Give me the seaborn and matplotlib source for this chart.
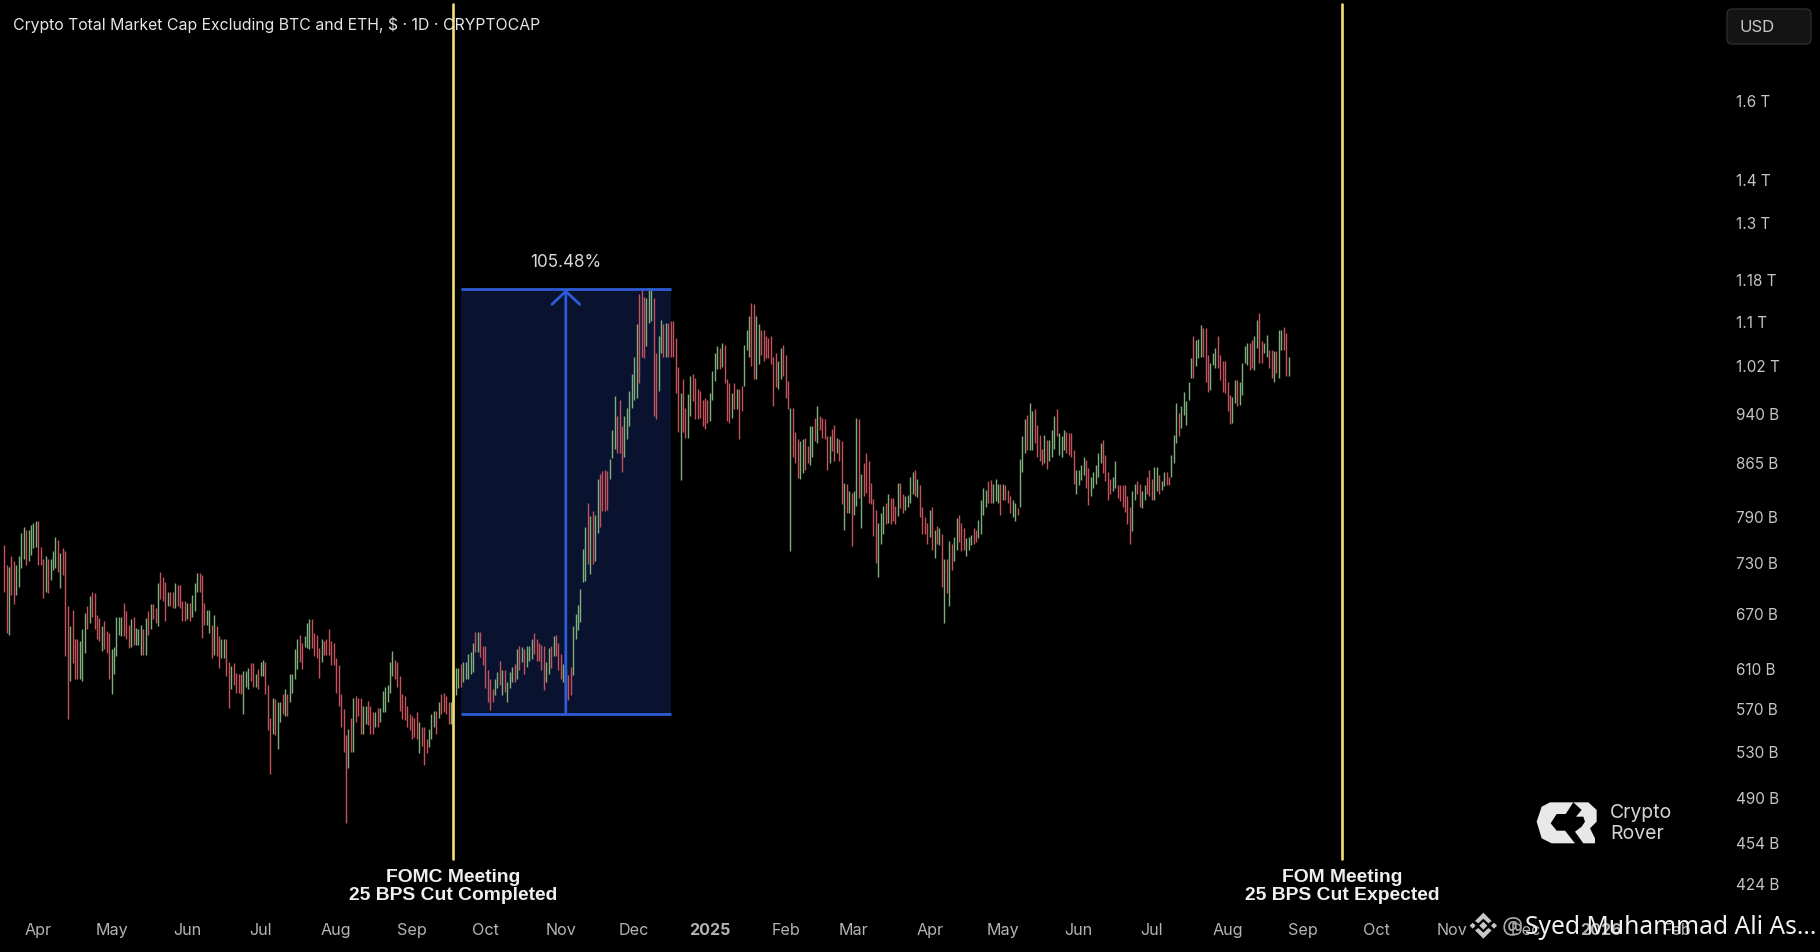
import matplotlib
matplotlib.use("Agg")
import matplotlib.pyplot as plt
import matplotlib.transforms as mtrans
from matplotlib.patches import FancyBboxPatch, Polygon
import pandas as pd
import seaborn as sns

# daily range of the index in billions, Mar 2024 -> Sep 2024
highs_a = [753,728,726,739,733,728,739,769,777,773,
           773,779,782,784,784,751,735,739,735,735,
           745,764,760,743,749,745,679,656,675,642,
           642,640,653,671,679,691,696,694,669,665,
           656,662,651,649,631,634,667,667,667,683,
           673,658,664,667,654,653,658,653,665,673,
           681,681,677,706,720,714,708,696,696,696,
           706,704,704,685,685,683,683,692,706,718,
           718,716,683,675,675,658,669,656,645,642,
           642,642,618,613,617,606,605,605,608,608,
           611,617,617,605,610,618,620,618,594,562,
           581,580,577,577,585,590,585,605,605,631,
           642,647,638,645,660,664,664,649,647,632,
           642,640,642,653,640,638,622,615,585,570,
           546,551,562,581,583,581,581,573,573,578,
           573,567,567,571,571,588,592,594,618,629,
           620,618,603,585,583,573,565,564,562,567,
           558,553,553,542,551,565,568,568,577,585,
           586,583,577,577]
lows_a = [696,649,647,692,681,692,702,724,735,728,
          733,741,749,751,728,728,689,696,694,710,
          722,724,720,700,716,624,561,598,617,600,
          600,600,598,627,653,660,667,653,642,640,
          629,631,627,600,585,605,624,647,645,645,
          642,632,634,636,636,636,625,625,625,647,
          653,664,660,656,687,685,662,679,679,677,
          677,679,677,662,662,664,662,667,673,696,
          696,643,658,658,649,622,625,624,611,622,
          622,603,571,590,594,586,586,585,565,592,
          590,598,592,592,590,603,603,585,550,511,
          547,546,533,558,565,564,564,577,586,600,
          610,618,610,634,632,631,632,624,622,601,
          618,625,625,625,615,615,586,573,553,530,
          470,516,530,530,558,564,547,547,556,555,
          547,547,553,553,558,567,567,577,586,603,
          600,592,568,561,560,553,550,542,544,542,
          529,536,519,529,535,542,553,547,562,565,
          567,565,556,556]
dirs_a = ("RRGRRGGGGR" "GGGGRRRGRG" "GGRGRRRGRR" "RGGGRGRRRR" "GRRRGGGGGR"
          "RRGRGGGRGR" "GRRGRRRGRR" "GRRRRGRGGG" "RRRGGRGRRG" "GRRGRRRRGG"
          "GRRGRGGRRR" "GRGGRGRGGG" "GRRGGGRRRR" "GRRRRRRRRR" "RGRGRRRGGR"
          "RRGRGGGGGG" "RRRRRRRRRR" "GRRRGGGRGR" "RRRG")

# Sep 2024 -> Apr/May 2025
highs_b = [603,611,611,616,618,618,626,628,638,650,
           650,650,635,635,609,600,590,600,607,619,
           609,609,597,607,612,616,631,635,634,631,
           635,635,642,649,642,638,636,635,618,633,
           635,646,647,638,626,616,611,604,612,657,
           670,680,699,748,776,809,791,798,793,842,
           849,854,856,854,871,915,970,937,964,922,
           937,951,978,1006,1037,1095,1154,1161,1148,1145,
           1165,1165,1145,1043,1074,1104,1095,1098,1098,1101,
           1101,1071,1018,975,998,951,973,1004,1006,1000,
           981,978,964,967,964,975,1012,1043,1055,1052,
           1061,1058,998,992,975,992,981,981,986,1058,
           1085,1110,1136,1133,1110,1095,1085,1085,1074,1071,
           1074,1037,1043,1030,1052,1058,1040,995,951,951,
           912,901,899,901,903,891,922,922,934,953,
           937,934,932,906,906,917,924,903,901,899,
           837,835,826,823,826,934,932,849,866,881,
           868,837,814,800,782,795,805,809,821,816,
           816,805,837,837]
lows_b = [575,584,591,592,597,600,600,605,607,628,
          628,623,614,591,577,569,577,584,591,594,
          584,587,577,591,597,597,600,609,618,605,
          612,619,621,626,619,619,609,589,597,605,
          611,624,624,609,600,597,580,579,584,604,
          642,652,661,707,709,729,717,729,733,769,
          776,798,798,800,842,873,886,880,880,852,
          874,901,922,951,964,967,992,1037,1034,1055,
          1098,1101,937,932,978,1043,1037,1037,1037,1037,
          1037,975,912,841,912,903,903,937,962,932,
          932,934,922,917,926,929,964,995,1015,1015,
          1018,992,929,926,934,948,948,901,945,986,
          1049,1037,1021,998,998,1024,1040,1030,1034,1034,
          1024,953,984,981,998,1004,967,948,746,874,
          866,844,842,851,856,866,863,875,899,896,
          915,903,901,856,866,883,868,880,868,807,
          773,795,795,752,793,805,816,775,818,823,
          809,807,765,731,713,754,767,781,782,781,
          784,781,791,802]
dirs_b = ("GGGRGGGGGR" "GRRRRRRGGR" "GRGGGRGRGR" "GGGRRRRRGG" "RGRRRGRRRG"
          "GGGGGRGRGG" "RRRRGGGRRR" "GGGGGGRRRG" "GGRRGGRGRR" "RRRGRRGGRR"
          "RRRRRGGGGR" "GRRRGRGRRG" "GGRRGGRRRR" "RRRGGRRRGR" "RRGGRRGGRG"
          "RRRRGRRGRR" "GRGRGGRGRR" "RRRRGGGRGR" "RRGR")

# up to Aug 2025
highs_c = [822,818,820,846,852,855,843,834,804,790,
           782,800,804,773,778,775,768,735,735,759,
           755,764,788,793,782,775,762,764,766,775,
           773,786,813,830,827,839,841,836,843,836,
           836,836,834,827,818,813,809,802,871,906,
           932,939,958,945,948,924,908,887,908,900,
           900,916,937,948,911,906,916,913,911,911,
           885,856,856,863,875,870,858,846,853,863,
           880,895,900,878,853,843,846,868,834,834,
           834,834,818,804,825,836,839,836,825,834,
           846,856,843,860,860,848,839,853,853,846,
           878,908,958,942,953,977,961,994,1035,1073,
           1067,1068,1094,1088,1088,1040,1026,1043,1052,1073,
           1040,1029,1029,994,972,969,997,997,994,1026,
           1055,1061,1061,1067,1073,1104,1116,1064,1061,1076,
           1049,1049,1046,1046,1085,1085,1091,1079,1037]
lows_c = [795,800,804,809,822,818,817,790,767,767,
          755,764,747,737,755,753,702,660,694,679,
          722,733,747,757,745,747,739,747,753,755,
          757,762,768,793,804,809,809,809,811,809,
          793,813,813,809,795,790,784,793,804,853,
          880,885,885,885,895,875,868,863,866,857,
          868,875,887,906,878,875,885,880,878,875,
          836,822,834,841,848,830,806,818,830,836,
          846,865,851,839,813,822,825,830,816,811,
          804,797,780,755,771,813,822,804,802,813,
          822,818,813,813,825,822,827,832,834,834,
          846,865,895,906,919,939,924,964,1000,1000,
          1020,1034,1037,1037,994,977,980,1023,1017,1017,
          997,977,975,945,925,926,958,954,955,972,
          1026,1023,1014,1017,1014,1052,1026,1026,1043,1037,
          1017,1000,994,1008,1000,1049,1049,1003,1004]
dirs_c = ("RGGGGRGRRR" "RGRGRGRGRG" "RGGRRRGGGR" "RGGGGRRGGG" "RGRRRGGRGG"
          "GRGGRRRRGR" "GGGRGGGRRR" "RGGGGRRGGG" "GGRRRRGGRR" "RRRRGGRRGG"
          "RRRGGRGGRR" "GGGRGGGGGR" "GGGRRRGGGR" "RRRRRGGRGG" "GGRRGGRRGG"
          "RRGRGGRRG")

first_day = "2024-03-18"
y_ticks = [1600, 1400, 1300, 1180, 1100, 1020, 940, 865, 790, 730, 670, 610, 570, 530, 490, 454, 424]
y_labels = ["1.6 T", "1.4 T", "1.3 T", "1.18 T", "1.1 T", "1.02 T", "940 B", "865 B", "790 B",
            "730 B", "670 B", "610 B", "570 B", "530 B", "490 B", "454 B", "424 B"]
x_ticks = ["2024-04-01", "2024-05-01", "2024-06-01", "2024-07-01", "2024-08-01", "2024-09-01",
           "2024-10-01", "2024-11-01", "2024-12-01", "2025-01-01", "2025-02-01", "2025-03-01",
           "2025-04-01", "2025-05-01", "2025-06-01", "2025-07-01", "2025-08-01", "2025-09-01",
           "2025-10-01", "2025-11-01", "2025-12-01", "2026-01-01", "2026-02-01"]
x_labels = ["Apr", "May", "Jun", "Jul", "Aug", "Sep", "Oct", "Nov", "Dec", "2025", "Feb", "Mar",
            "Apr", "May", "Jun", "Jul", "Aug", "Sep", "Oct", "Nov", "Dec", "2026", "Feb"]
meeting_days = ["2024-09-18", "2025-09-17"]
meeting_notes = ["FOMC Meeting\n25 BPS Cut Completed", "FOM Meeting\n25 BPS Cut Expected"]
box_days = ["2024-09-21", "2024-12-16"]
box_low, box_high = 565.6, 1162.2
arrow_day = "2024-11-03"

highs = highs_a + highs_b + highs_c
lows = lows_a + lows_b + lows_c
dirs = list(dirs_a + dirs_b + dirs_c)
dates = pd.date_range(first_day, periods=len(highs))
hi = pd.DataFrame({"date": dates, "price": highs, "dir": dirs})
lo = pd.DataFrame({"date": dates, "price": lows, "dir": dirs})
bars = pd.concat([hi, lo]).sort_values("date", kind="stable")

sns.set_theme(style="dark", rc={"axes.facecolor": "black", "figure.facecolor": "black",
                                "axes.grid": False})
plt.rcParams["font.family"] = ["Inter", "DejaVu Sans"]

fig = plt.figure(figsize=(18.2, 9.52), dpi=100)
ax = fig.add_axes([0, 0, 1, 1])
ax.set_yscale("log")

blue = "#2f5bd6"
ax.fill_between(pd.to_datetime(box_days), box_low, box_high, color="#09122e", lw=0, zorder=1)

sns.lineplot(data=bars, x="date", y="price", hue="dir", units="date", estimator=None,
             palette={"R": "#c4525c", "G": "#7fae7c"}, linewidth=1.0, legend=False,
             solid_capstyle="butt", sort=False, ax=ax, zorder=3)

ax.hlines([box_low, box_high], *pd.to_datetime(box_days), color=blue, lw=2.0, zorder=4)
ax.annotate("", xy=(pd.Timestamp(arrow_day), box_high), xytext=(pd.Timestamp(arrow_day), box_low),
            arrowprops=dict(arrowstyle="->,head_length=0.94,head_width=1.0", color=blue, lw=2.0,
                            shrinkA=0, shrinkB=0, mutation_scale=10), zorder=4)
ax.text(pd.Timestamp(arrow_day), box_high * 1.046, "105.48%", color="#d8d8d8", ha="center",
        va="center", fontsize=12.3)

trans = mtrans.blended_transform_factory(ax.transData, ax.transAxes)
for day, note in zip(meeting_days, meeting_notes):
    ax.axvline(pd.Timestamp(day), ymin=0.0977, ymax=0.9958, color="#f3df74", lw=1.9, zorder=5)
    ax.text(pd.Timestamp(day), 0.0690, note, transform=trans, color="#efefef", ha="center",
            va="center", fontsize=13.85, fontweight="bold", family="Liberation Sans", linespacing=1.04)

origin = pd.Timestamp("2024-04-01")
ax.set_xlim(origin - pd.Timedelta(days=15.7), origin + pd.Timedelta(days=729.6))
ax.set_ylim(377.6, 1899)
ax.set_xticks(pd.to_datetime(x_ticks))
ax.set_xticklabels(x_labels)
ax.yaxis.tick_right()
ax.set_yticks(y_ticks)
ax.set_yticklabels(y_labels)
ax.minorticks_off()
ax.set_xlabel("")
ax.set_ylabel("")
ax.tick_params(axis="x", length=0, pad=-21, colors="#b4b4b4", labelsize=11.6)
ax.tick_params(axis="y", length=0, pad=-60.5, colors="#c4c4c4", labelsize=11)
for lab in ax.get_xticklabels():
    if lab.get_text() in ("2025", "2026"):
        lab.set_fontweight("bold")
for lab in ax.get_yticklabels():
    lab.set_horizontalalignment("left")
sns.despine(ax=ax, left=True, bottom=True, right=True, top=True)

# pixel overlay for the chart furniture
over = fig.add_axes([0, 0, 1, 1], facecolor="none")
over.set_xlim(0, 1820)
over.set_ylim(952, 0)
over.axis("off")
fig.text(13 / 1820, 1 - 25 / 952, "Crypto Total Market Cap Excluding BTC and ETH, $ \u00b7 1D \u00b7 CRYPTOCAP",
         color="#e6e6e6", fontsize=11.37, va="center")
over.add_patch(FancyBboxPatch((1730, 12), 78, 29, boxstyle="round,pad=3,rounding_size=5",
                              fc="#141414", ec="#2c2c2c", lw=1))
over.text(1757, 27, "USD", color="#c8c8c8", fontsize=12, ha="center", va="center")

# Crypto Rover logo, outline taken from a 3x crop at (1400, 760)
logo_c = [(520, 127), (450, 127), (425, 140), (410, 185), (425, 235), (455, 250), (525, 250),
          (495, 212), (470, 212), (452, 190), (470, 162), (497, 162)]
logo_r = [(520, 127), (565, 127), (590, 150), (590, 185), (570, 205), (585, 235), (585, 250),
          (550, 250), (525, 215), (545, 200), (555, 185), (550, 170), (528, 170), (545, 150)]
for shape in (logo_c, logo_r):
    over.add_patch(Polygon([(1400 + a / 3, 760 + b / 3) for a, b in shape], fc="#e8e8e8", ec="none"))
over.text(1610, 823.5, "Crypto\nRover", color="#d6d6d6", fontsize=14, va="center", linespacing=1.2)

# watermark icon, same crop
icon_parts = [[(250, 458), (275, 483), (265, 490), (250, 476), (235, 490), (225, 483)],
              [(250, 536), (275, 511), (265, 504), (250, 518), (235, 504), (225, 511)],
              [(250, 485), (262, 497), (250, 509), (238, 497)],
              [(218, 488), (227, 497), (218, 506), (209, 497)],
              [(282, 488), (291, 497), (282, 506), (273, 497)]]
for part in icon_parts:
    over.add_patch(Polygon([(1400 + a / 3, 760 + b / 3) for a, b in part], fc="#c8c8c8", ec="none"))
over.text(1502, 927, "@", color="#a8a8a8", fontsize=17, va="center", family="Noto Sans")
over.text(1525, 927, "Syed Muhammad Ali As...", color="#f2f2f2", fontsize=17.7, va="center",
          family="Noto Sans")

fig.savefig("out.png", dpi=100, facecolor="black")
